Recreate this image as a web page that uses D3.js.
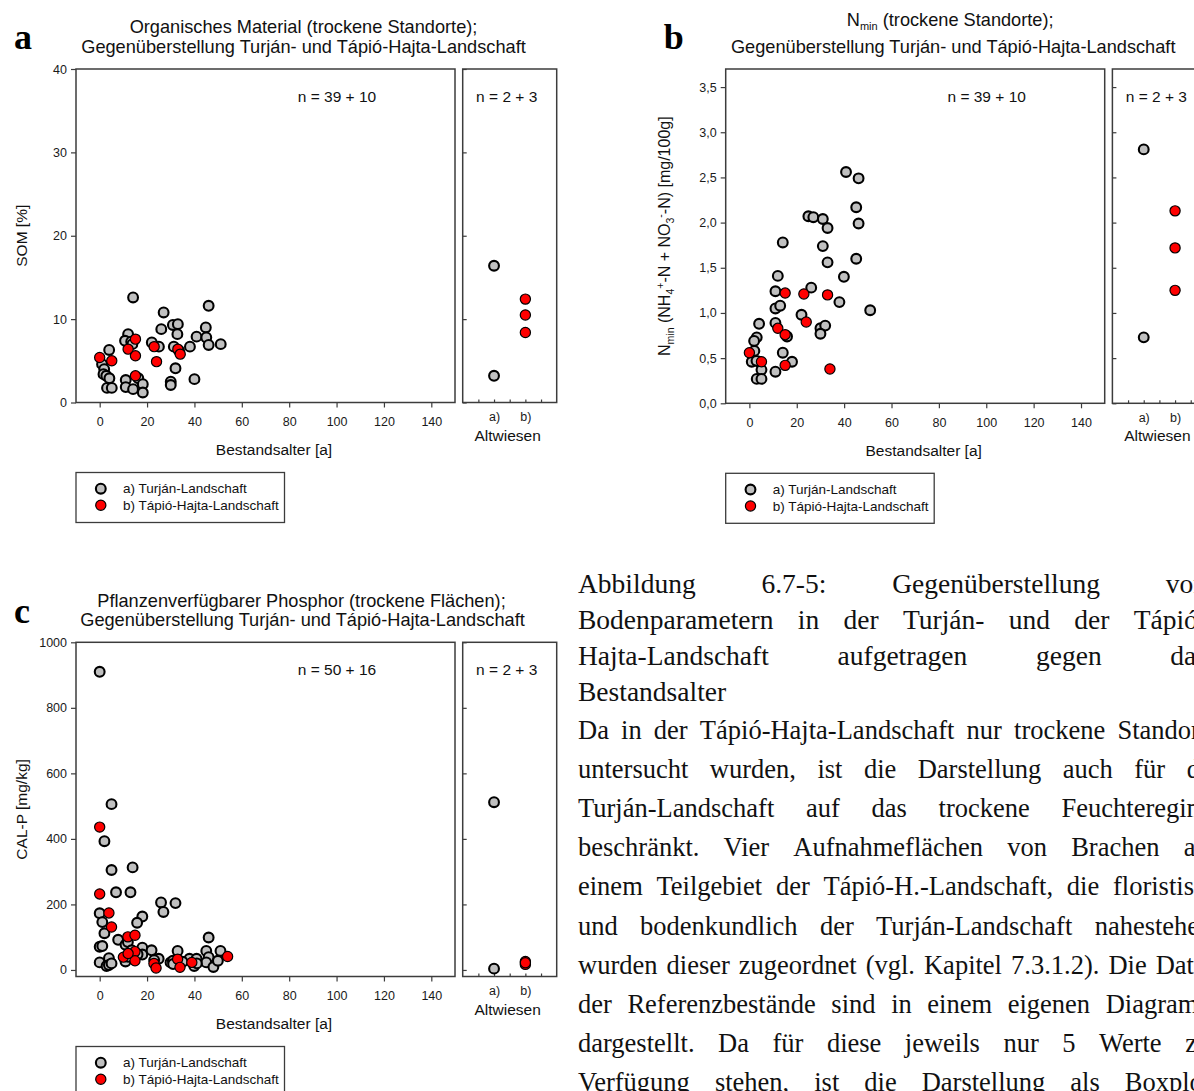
<!DOCTYPE html>
<html>
<head>
<meta charset="utf-8">
<script src="https://cdn.jsdelivr.net/npm/d3@7"></script>
<style>
  html, body { margin: 0; padding: 0; background: #fff; overflow: hidden; }
  svg { display: block; }
</style>
</head>
<body>
<script>
// ---------- data ----------
const ageTicks = [0, 20, 40, 60, 80, 100, 120, 140];
const altCategories = ["a)", "b)"];

// Organic matter (SOM %) vs stand age [a]
const somTicks = [0, 10, 20, 30, 40];
const somTurjan = [
  [14.1,12.6],[27,10.8],[46,11.6],[26,8.8],[30.9,9.3],[33,9.4],[32.8,8.2],[44.8,9.0],
  [40.9,7.9],[45,7.8],[46,6.9],[51.1,7.0],[38.1,6.7],[22,7.2],[25,6.7],[31.3,6.7],
  [12,8.2],[10.7,7.4],[13.3,7.3],[4,6.3],[1,4.6],[1.9,4.0],[1.6,3.4],[2.8,3.2],
  [4.1,2.9],[3.1,1.75],[5.1,1.75],[32,4.1],[40,2.8],[30,2.5],[30,2.1],[11,2.7],
  [11,1.85],[14.1,1.6],[16.3,2.9],[18.2,2.2],[18.2,1.2],[13.8,7.0],[33.5,6.2]
];
const somTapio = [
  [0,5.4],[5.1,5.0],[15.1,7.6],[12,6.4],[15.1,5.6],[15.1,3.2],[23,6.7],[24,4.9],[33,6.4],[34,5.8]
];
const somAltTurjan = [16.4, 3.2];
const somAltTapio = [12.4, 10.5, 8.4];

// Mineral nitrogen (Nmin, mg/100g) vs stand age [a]
const nminTicks = [0, 0.5, 1, 1.5, 2, 2.5, 3, 3.5];
const nminTurjan = [
  [40.8,2.56],[46.1,2.49],[45.1,2.17],[46.1,1.99],[45.1,1.60],[39.9,1.40],[38,1.12],[51,1.03],
  [24.9,2.07],[27,2.06],[31,2.04],[33,1.94],[31,1.74],[33,1.56],[26.1,1.28],[14.1,1.78],
  [12,1.41],[11,1.24],[11,1.05],[13,1.08],[11,0.89],[15.9,0.74],[14.1,0.56],[18,0.46],
  [11,0.35],[22,0.98],[30,0.83],[32,0.86],[30,0.77],[4.1,0.88],[3.1,0.73],[2,0.69],
  [2.1,0.58],[1,0.46],[4.1,0.46],[5.1,0.37],[3.1,0.27],[5.1,0.27],[3.0,0.47]
];
const nminTapio = [
  [0,0.56],[5.1,0.46],[15.1,1.22],[12,0.83],[15.1,0.76],[15.1,0.42],[23,1.21],[24,0.90],[33,1.20],[34,0.38]
];
const nminAltTurjan = [2.81, 0.73];
const nminAltTapio = [2.13, 1.72, 1.25];

// Plant-available phosphorus (CAL-P, mg/kg) vs stand age [a]
const pTicks = [0, 200, 400, 600, 800, 1000];
const pTurjan = [
  [0,910],[5,506],[2,393],[5,305],[13.9,313],[6.9,237],[13,237],[25.9,206],[32,204],[26.9,177],
  [18,163],[15.8,144],[0,173],[1.1,146],[2,112],[7.8,92],[0,71],[1.1,73],[0,23],[3.9,36],
  [2.9,12],[3.9,15],[10.9,77],[11.9,85],[10.9,26],[18,68],[18,47],[21.9,60],[24.9,34],[29.9,23],
  [30.9,28],[32.9,58],[37.9,34],[40.9,34],[39.9,12],[46,99],[45,58],[46,39],[45,23],[48,9],
  [49.9,28],[51,58],[13.5,60],[12,40],[16,48],[31,18],[41,20],[5,20],[23,30],[35,25]
];
const pTapio = [
  [0,436],[0,232],[3.9,174],[5,131],[11.9,101],[14.9,106],[10,39],[14.9,56],[14.9,28],[22.9,20],
  [23.8,6],[32.9,33],[33.9,8],[38.9,23],[54,41],[12,50]
];
const pAltTurjan = [512, 4];
const pAltTapio = [26, 17, 22];

// caption lines (justified block, clipped by the page edge)
const captionHead = [
  "Abbildung 6.7-5: Gegenüberstellung von",
  "Bodenparametern in der Turján- und der Tápió-",
  "Hajta-Landschaft aufgetragen gegen das",
  "Bestandsalter"
];
const captionBody = [
  "Da in der Tápió-Hajta-Landschaft nur trockene Standorte",
  "untersucht wurden, ist die Darstellung auch für die",
  "Turján-Landschaft auf das trockene Feuchteregime",
  "beschränkt. Vier Aufnahmeflächen von Brachen aus",
  "einem Teilgebiet der Tápió-H.-Landschaft, die floristisch",
  "und bodenkundlich der Turján-Landschaft nahestehen,",
  "wurden dieser zugeordnet (vgl. Kapitel 7.3.1.2). Die Daten",
  "der Referenzbestände sind in einem eigenen Diagramm",
  "dargestellt. Da für diese jeweils nur 5 Werte zur",
  "Verfügung stehen, ist die Darstellung als Boxplot-"
];

// ---------- drawing ----------
const W = 1194, H = 1091;
const SANS = "'Liberation Sans', Arial, sans-serif";
const SERIF = "'Liberation Serif', 'Times New Roman', serif";
const AXIS = "#3c3c3c";
const GREY = "#c0c0c0", RED = "#ff0000";

const svg = d3.select("body").append("svg").attr("width", W).attr("height", H);

function styleAxis(gAxis) {
  gAxis.attr("font-family", SANS).attr("font-size", 12.5);
  gAxis.select(".domain").remove();
  gAxis.selectAll(".tick line").attr("stroke", AXIS).attr("stroke-width", 1.2);
  gAxis.selectAll(".tick text").attr("fill", "#1a1a1a");
}

function drawPanel(p) {
  const g = svg.append("g").attr("font-family", SANS);
  const L = p.left, T = p.top, PW = 379, PH = p.height;
  const x = d3.scaleLinear().domain([-10, 150]).range([L, L + PW]);
  const y = d3.scaleLinear().domain(p.yDomain).range([T + PH, T]);
  const aL = L + 386.7, aW = 94;
  const xa = d3.scaleLinear().domain([0, 3]).range([aL, aL + aW]);

  // panel letter
  g.append("text").attr("x", L - 62).attr("y", T - 19.7)
    .attr("font-family", SERIF).attr("font-weight", "bold").attr("font-size", 36)
    .text(p.letter);

  // title
  const tt = g.append("g").attr("font-size", 18.2).attr("text-anchor", "middle").attr("fill", "#111");
  p.title(tt, L + 227.5, T);

  // main plot axes
  const gx = g.append("g").attr("transform", `translate(0,${T + PH})`)
    .call(d3.axisBottom(x).tickValues(ageTicks).tickSize(5).tickPadding(9.5).tickFormat(d3.format("d")));
  styleAxis(gx);
  const gy = g.append("g").attr("transform", `translate(${L},0)`)
    .call(d3.axisLeft(y).tickValues(p.yTicks).tickSize(5).tickPadding(4).tickFormat(p.yFormat));
  styleAxis(gy);

  // alt-meadow panel: inner ticks, category labels
  const ga = g.append("g").attr("transform", `translate(${aL},0)`)
    .call(d3.axisRight(y).tickValues(p.yTicks).tickSize(4).tickFormat(""));
  styleAxis(ga);
  const gb = g.append("g").attr("transform", `translate(0,${T + PH})`)
    .call(d3.axisTop(xa).tickValues([0.5, 1, 1.5, 2, 2.5]).tickSize(3).tickFormat(""));
  styleAxis(gb);
  const gc = g.append("g").attr("transform", `translate(0,${T + PH})`)
    .call(d3.axisBottom(xa).tickValues([1, 2]).tickSize(0).tickPadding(9.5)
      .tickFormat((d, i) => altCategories[i]));
  styleAxis(gc);

  // frames
  g.append("rect").attr("x", L).attr("y", T).attr("width", PW).attr("height", PH)
    .attr("fill", "none").attr("stroke", AXIS).attr("stroke-width", 1.5);
  g.append("rect").attr("x", aL).attr("y", T).attr("width", aW).attr("height", PH)
    .attr("fill", "none").attr("stroke", AXIS).attr("stroke-width", 1.5);

  // axis titles
  g.append("text").attr("x", L + 198).attr("y", T + PH + 52.5).attr("text-anchor", "middle")
    .attr("font-size", 15.5).attr("fill", "#111").text("Bestandsalter [a]");
  g.append("text").attr("x", aL + 45).attr("y", T + PH + 38).attr("text-anchor", "middle")
    .attr("font-size", 15.5).attr("fill", "#111").text("Altwiesen");
  const yl = g.append("text")
    .attr("transform", `translate(${L + p.yLabelDx},${T + PH / 2}) rotate(-90)`)
    .attr("text-anchor", "middle").attr("font-size", p.yLabelSize).attr("fill", "#111");
  p.yLabel(yl);

  // sample sizes
  g.append("text").attr("x", L + 261).attr("y", T + 32.5).attr("text-anchor", "middle")
    .attr("font-size", 15.5).attr("fill", "#111").text(p.nMain);
  g.append("text").attr("x", aL + 44).attr("y", T + 32.5).attr("text-anchor", "middle")
    .attr("font-size", 15.5).attr("fill", "#111").text(p.nAlt);

  // points
  const dot = (sel, fill) => sel.attr("r", fill === GREY ? 4.9 : 5.1)
    .attr("fill", fill).attr("stroke", "#000").attr("stroke-width", fill === GREY ? 2.1 : 1.2);
  g.append("g").selectAll("circle").data(p.turjan).join("circle")
    .attr("cx", d => x(d[0])).attr("cy", d => y(d[1])).call(dot, GREY);
  g.append("g").selectAll("circle").data(p.tapio).join("circle")
    .attr("cx", d => x(d[0])).attr("cy", d => y(d[1])).call(dot, RED);
  g.append("g").selectAll("circle").data(p.altTurjan).join("circle")
    .attr("cx", xa(1)).attr("cy", d => y(d)).call(dot, GREY);
  g.append("g").selectAll("circle").data(p.altTapio).join("circle")
    .attr("cx", xa(2)).attr("cy", d => y(d)).call(dot, RED);

  // legend
  const lg = g.append("g").attr("transform", `translate(${L},${T + PH + 70})`);
  lg.append("rect").attr("width", 208.5).attr("height", 50).attr("fill", "#fff")
    .attr("stroke", AXIS).attr("stroke-width", 1.3);
  const items = [["a) Turján-Landschaft", GREY], ["b) Tápió-Hajta-Landschaft", RED]];
  items.forEach(([label, c], i) => {
    lg.append("circle").attr("cx", 24.8).attr("cy", 16.2 + i * 16.5).call(dot, c);
    lg.append("text").attr("x", 47).attr("y", 16.2 + i * 16.5 + 4.6)
      .attr("font-size", 13.5).attr("fill", "#111").text(label);
  });
}

const commaFmt = d => d3.format(".1f")(d).replace(".", ",");

drawPanel({
  letter: "a", left: 76, top: 69, height: 333.5,
  yDomain: [0, 40], yTicks: somTicks, yFormat: d3.format("d"),
  title: (t, cx, T) => {
    t.append("text").attr("x", cx).attr("y", T - 35.7).text("Organisches Material (trockene Standorte);");
    t.append("text").attr("x", cx).attr("y", T - 16.3).text("Gegenüberstellung Turján- und Tápió-Hajta-Landschaft");
  },
  yLabelDx: -49, yLabelSize: 15.5, yLabel: t => t.text("SOM [%]"),
  nMain: "n = 39 + 10", nAlt: "n = 2 + 3",
  turjan: somTurjan, tapio: somTapio, altTurjan: somAltTurjan, altTapio: somAltTapio
});

drawPanel({
  letter: "b", left: 725.7, top: 69, height: 334.3,
  yDomain: [0, 3.7], yTicks: nminTicks, yFormat: commaFmt,
  title: (t, cx, T) => {
    const l1 = t.append("text").attr("x", cx - 3).attr("y", T - 43.2);
    l1.append("tspan").text("N");
    l1.append("tspan").attr("font-size", 11).attr("dy", 4).text("min");
    l1.append("tspan").attr("dy", -4).text(" (trockene Standorte);");
    t.append("text").attr("x", cx).attr("y", T - 15.6).text("Gegenüberstellung Turján- und Tápió-Hajta-Landschaft");
  },
  yLabelDx: -56, yLabelSize: 16,
  yLabel: t => {
    t.append("tspan").text("N");
    t.append("tspan").attr("font-size", 10.5).attr("dy", 4).text("min");
    t.append("tspan").attr("dy", -4).text(" (NH");
    t.append("tspan").attr("font-size", 10.5).attr("dy", 4).text("4");
    t.append("tspan").attr("font-size", 10.5).attr("dy", -10).text("+");
    t.append("tspan").attr("dy", 6).text("-N + NO");
    t.append("tspan").attr("font-size", 10.5).attr("dy", 4).text("3");
    t.append("tspan").attr("font-size", 10.5).attr("dy", -10).text("-");
    t.append("tspan").attr("dy", 6).text("-N) [mg/100g]");
  },
  nMain: "n = 39 + 10", nAlt: "n = 2 + 3",
  turjan: nminTurjan, tapio: nminTapio, altTurjan: nminAltTurjan, altTapio: nminAltTapio
});

drawPanel({
  letter: "c", left: 76, top: 642.3, height: 334.2,
  yDomain: [-20, 1000], yTicks: pTicks, yFormat: d3.format("d"),
  title: (t, cx, T) => {
    t.append("text").attr("x", cx - 2).attr("y", T - 35.6).text("Pflanzenverfügbarer Phosphor (trockene Flächen);");
    t.append("text").attr("x", cx - 1).attr("y", T - 16.3).text("Gegenüberstellung Turján- und Tápió-Hajta-Landschaft");
  },
  yLabelDx: -49, yLabelSize: 15.5, yLabel: t => t.text("CAL-P [mg/kg]"),
  nMain: "n = 50 + 16", nAlt: "n = 2 + 3",
  turjan: pTurjan, tapio: pTapio, altTurjan: pAltTurjan, altTapio: pAltTapio
});

// ---------- caption: justified serif text ----------
const colLeft = 578;
function justifiedLine(grp, str, baseline, justify, colWidth) {
  const words = str.split(" ");
  const nodes = words.map(w => grp.append("text").attr("y", baseline).text(w));
  const widths = nodes.map(n => n.node().getComputedTextLength());
  const total = d3.sum(widths);
  const space = grp.append("text").text("\u00a0");
  const sw = space.node().getComputedTextLength();
  space.remove();
  const gap = justify && words.length > 1 ? Math.max(sw * 0.8, (colWidth - total) / (words.length - 1)) : sw;
  let xPos = colLeft;
  nodes.forEach((n, i) => { n.attr("x", xPos); xPos += widths[i] + gap; });
}
const capHead = svg.append("g").attr("font-family", SERIF).attr("font-size", 27.5).attr("fill", "#111");
const capBody = svg.append("g").attr("font-family", SERIF).attr("font-size", 26.5).attr("fill", "#111");
captionHead.forEach((s, i) => justifiedLine(capHead, s, 593 + i * 36, i < captionHead.length - 1, 629));
captionBody.forEach((s, i) => justifiedLine(capBody, s, 738.5 + i * 39.2, true, 641));
</script>
</body>
</html>
